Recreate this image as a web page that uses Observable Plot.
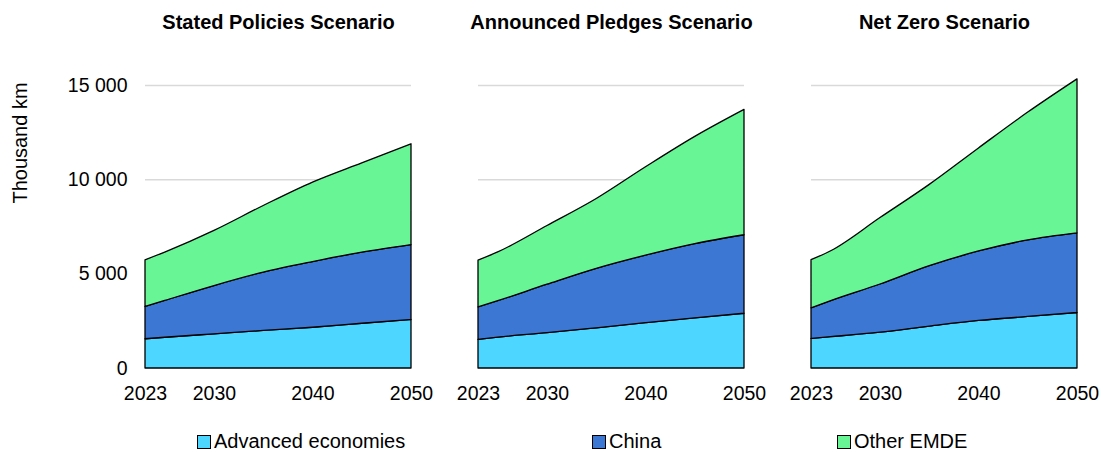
<!DOCTYPE html>
<html>
<head>
<meta charset="utf-8">
<script src="https://cdn.jsdelivr.net/npm/d3@7"></script>
<script src="https://cdn.jsdelivr.net/npm/@observablehq/plot@0.6"></script>
<style>
  html, body { margin: 0; padding: 0; background: #fff; }
  body { width: 1103px; height: 453px; position: relative; font-family: "Liberation Sans", Arial, sans-serif; overflow: hidden; }
  #chart { position: absolute; left: 0; top: 0; }
  #ylabel { position: absolute; left: 20px; top: 143px; transform: translate(-50%, -50%) rotate(-90deg); font-size: 20px; white-space: nowrap; color: #000; }
  .leg { position: absolute; top: 430px; font-size: 20px; color: #000; display: flex; align-items: center; white-space: nowrap; }
  .sw { width: 12px; height: 12px; border: 1px solid #000; margin-right: 3px; display: inline-block; }
</style>
</head>
<body>
<div id="chart"></div>
<div id="ylabel">Thousand km</div>
<script>
const years = [2023, 2025, 2030, 2035, 2040, 2045, 2050];
const scenarios = ["Stated Policies Scenario", "Announced Pledges Scenario", "Net Zero Scenario"];
const seriesNames = ["Advanced economies", "China", "Other EMDE"];
const colors = ["#4dd6ff", "#3c78d3", "#68f595"];

// Stated Policies Scenario
const stepsAdvanced = [1550, 1630, 1810, 1990, 2160, 2370, 2570];
const stepsChina    = [1710, 1950, 2560, 3090, 3480, 3770, 3970];
const stepsOther    = [2470, 2560, 2920, 3530, 4210, 4730, 5340];
// Announced Pledges Scenario
const apsAdvanced = [1520, 1640, 1870, 2130, 2400, 2660, 2900];
const apsChina    = [1715, 1925, 2570, 3150, 3580, 3930, 4160];
const apsOther    = [2480, 2585, 3110, 3700, 4680, 5680, 6640];
// Net Zero Scenario
const nzeAdvanced = [1570, 1660, 1900, 2220, 2520, 2730, 2940];
const nzeChina    = [1615, 1910, 2550, 3200, 3680, 4060, 4220];
const nzeOther    = [2555, 2640, 3520, 4310, 5460, 6770, 8160];

const yTicks = [0, 5000, 10000, 15000];
const gridTicks = [5000, 10000, 15000];
const xTicks = [2023, 2030, 2040, 2050];

const bySc = [
  [stepsAdvanced, stepsChina, stepsOther],
  [apsAdvanced, apsChina, apsOther],
  [nzeAdvanced, nzeChina, nzeOther]
];
const rows = [];
scenarios.forEach((sc, i) => {
  seriesNames.forEach((s, j) => {
    years.forEach((y, k) => rows.push({scenario: sc, series: s, year: y, value: bySc[i][j][k]}));
  });
});

const fmt = d3.formatLocale({decimal: ".", thousands: " ", grouping: [3], currency: ["", ""]}).format(",");

const chart = Plot.plot({
  width: 1103,
  height: 420,
  marginLeft: 145,
  marginRight: 25,
  marginTop: 66,
  marginBottom: 52,
  style: {fontFamily: '"Liberation Sans", Arial, sans-serif', fontSize: "19.5px", color: "#000", background: "#fff"},
  fx: {domain: scenarios, paddingInner: 0.2, paddingOuter: 0, axis: null},
  x: {domain: [2023, 2050], ticks: xTicks, tickFormat: d => String(d), tickSize: 0, tickPadding: 18, label: null},
  y: {domain: [0, 16000], ticks: yTicks, tickFormat: fmt, tickSize: 0, tickPadding: 18, label: null},
  color: {domain: seriesNames, range: colors},
  marks: [
    Plot.gridY(gridTicks, {stroke: "#d9d9d9", strokeOpacity: 1, strokeWidth: 1.5}),
    Plot.areaY(rows, Plot.stackY({
      fx: "scenario", x: "year", y: "value", z: "series", fill: "series",
      order: seriesNames,
      stroke: "#000", strokeWidth: 1.3, curve: "monotone-x"
    })),
    Plot.text(scenarios, {fx: d => d, text: d => d, frameAnchor: "top", lineAnchor: "middle", dy: -44, fontWeight: "bold", fontSize: 20, fill: "#000"})
  ]
});
document.getElementById("chart").appendChild(chart);

const legPos = [197, 592, 837];
seriesNames.forEach((s, i) => {
  const el = document.createElement("div");
  el.className = "leg";
  el.style.left = legPos[i] + "px";
  const sw = document.createElement("span");
  sw.className = "sw";
  sw.style.background = colors[i];
  el.appendChild(sw);
  el.appendChild(document.createTextNode(s));
  document.body.appendChild(el);
});
</script>
</body>
</html>
